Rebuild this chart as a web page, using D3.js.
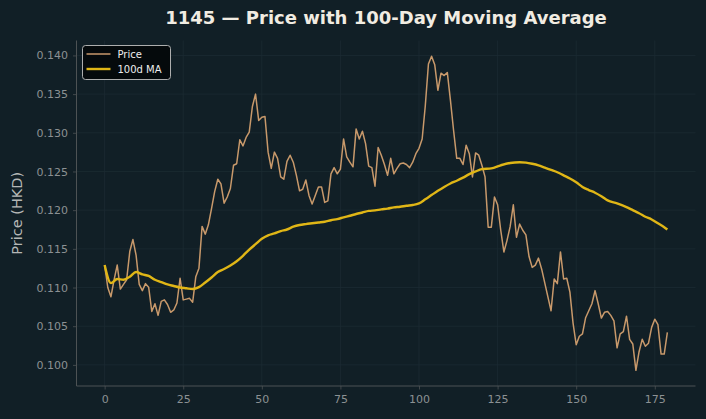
<!DOCTYPE html>
<html><head><meta charset="utf-8">
<script src="https://cdn.jsdelivr.net/npm/d3@7"></script>
<style>
html,body{margin:0;padding:0;background:#111f26;}
svg{display:block;font-family:"DejaVu Sans",sans-serif;}
</style></head>
<body><svg id="chart" width="706" height="419"></svg>
<script>
const title = "1145 — Price with 100-Day Moving Average";
const yLabel = "Price (HKD)";
const seriesNames = ["Price", "100d MA"];
const priceValues = [
0.1129,0.1100,0.1088,0.1110,0.1129,0.1098,0.1104,0.1110,0.11465,0.1162,
0.1142,0.1104,0.1096,0.1105,0.11005,0.1069,0.1079,0.1064,0.1082,0.1084,
0.1078,0.1068,0.1071,0.1080,0.1112,0.1084,0.1085,0.1086,0.1081,0.1114,
0.1125,0.1179,0.1169,0.1181,0.1202,0.1224,0.1240,0.1234,0.1209,0.1217,
0.1228,0.1258,0.1260,0.1291,0.1283,0.1294,0.1301,0.1334,0.1350,0.1316,
0.1320,0.1321,0.1275,0.1254,0.1275,0.1267,0.1243,0.1240,0.1263,0.1271,
0.1262,0.1245,0.1225,0.1227,0.1239,0.1219,0.1208,0.1219,0.1230,0.1230,
0.1210,0.1212,0.1247,0.1255,0.1247,0.1253,0.1292,0.1269,0.1262,0.1256,
0.1305,0.1292,0.1302,0.1286,0.1257,0.1255,0.1231,0.1281,0.1271,0.1259,
0.1245,0.1267,0.1247,0.1254,0.1260,0.1261,0.1259,0.1255,0.1262,0.1273,
0.1280,0.1292,0.1335,0.1389,0.1399,0.1388,0.1355,0.1377,0.1374,0.1378,
0.1342,0.1303,0.1267,0.1267,0.1259,0.1284,0.1273,0.1243,0.1274,0.1271,
0.1258,0.1243,0.1178,0.1178,0.1217,0.1207,0.1174,0.1146,0.1161,0.1179,
0.1207,0.1165,0.1182,0.1174,0.1168,0.1140,0.1126,0.1129,0.1138,0.1124,
0.1106,0.1088,0.1070,0.1111,0.1105,0.1146,0.1111,0.1112,0.1094,0.1054,
0.1026,0.1037,0.1040,0.1061,0.1070,0.1079,0.1096,0.1079,0.10605,0.1068,
0.1069,0.1064,0.1057,0.1022,0.1040,0.1043,0.1063,0.1033,0.1027,0.0993,
0.1017,0.1033,0.1024,0.1028,0.10485,0.1059,0.1052,0.1014,0.1014,0.1042
];
const maDays = [0,2,4,6,8,10,12,14,16,18,20,22,24,26,28,30,32,34,36,38,40,42,44,46,48,50,52,54,56,58,
60,62,64,66,68,70,72,74,76,78,80,82,84,86,88,90,92,94,96,98,100,102,104,106,108,110,112,114,116,118,120,
123,126,129,132,134,136,138,140,142,144,146,148,150,152,154,156,158,160,163,166,168,170,172,174,176,178,179];
const maValues = [0.1129,0.11057,0.1111,0.1110,0.1114,0.1120,0.1117,0.1115,0.1110,0.1107,0.1104,0.1102,0.1100,0.1099,0.1098,0.11005,0.11065,0.1113,0.1120,0.1124,0.11285,0.1134,0.1141,0.1149,0.1156,0.1163,0.11675,0.1170,0.1173,0.1175,
0.11786,0.11808,0.1182,0.1183,0.1184,0.1185,0.1187,0.11885,0.11907,0.11928,0.1195,0.1197,0.1199,0.11997,0.1201,0.1202,0.12036,0.12044,0.12057,0.12066,0.12087,0.1214,0.12195,0.1225,0.1230,0.12345,0.1238,0.1242,0.12465,0.1250,0.1253,
0.1254,0.1258,0.1261,0.1262,0.12615,0.1260,0.1258,0.1255,0.1252,0.1249,0.1245,0.1241,0.1236,0.1230,0.1226,0.12225,0.1218,0.12126,0.12087,0.1204,0.1200,0.1196,0.11915,0.1188,0.1183,0.1178,0.1175];
const xTicks = [0,25,50,75,100,125,150,175];
const yTicks = [0.100,0.105,0.110,0.115,0.120,0.125,0.130,0.135,0.140];

const colors = {bg:"#111f26", grid:"#1c2b32", spine:"#4d5254", tick:"#8c9193", title:"#f1ece2", ylab:"#b5b7b6", price:"#c8996b", ma:"#e0b616"};
const svg = d3.select("#chart");
svg.append("rect").attr("width",706).attr("height",419).attr("fill",colors.bg);

const L=76.5, R=695.5, T=40.5, B=386;
const n = priceValues.length;
const xPad = (n-1)*0.05;
const x = d3.scaleLinear().domain([-xPad, n-1+xPad]).range([L,R]);
const allV = priceValues.concat(maValues);
const [vmin,vmax] = d3.extent(allV);
const yPad = (vmax-vmin)*0.05;
const y = d3.scaleLinear().domain([vmin-yPad, vmax+yPad]).range([B,T]);

// grid
const g = svg.append("g");
g.selectAll("line.gx").data(xTicks).join("line").attr("x1",d=>x(d)).attr("x2",d=>x(d)).attr("y1",T).attr("y2",B).attr("stroke",colors.grid).attr("stroke-width",0.8);
g.selectAll("line.gy").data(yTicks).join("line").attr("y1",d=>y(d)).attr("y2",d=>y(d)).attr("x1",L).attr("x2",R).attr("stroke",colors.grid).attr("stroke-width",0.8);

// axes
const xAxis = d3.axisBottom(x).tickValues(xTicks).tickFormat(d3.format("d")).tickSize(3.5).tickPadding(6);
const yAxis = d3.axisLeft(y).tickValues(yTicks).tickFormat(d3.format(".3f")).tickSize(3.5).tickPadding(5);
const gx = svg.append("g").attr("transform",`translate(0,${B})`).call(xAxis);
const gy = svg.append("g").attr("transform",`translate(${L},0)`).call(yAxis);
[gx,gy].forEach(a=>{
  a.select(".domain").remove();
  a.selectAll(".tick line").attr("stroke",colors.spine).attr("stroke-width",0.8);
  a.selectAll(".tick text").attr("fill",colors.tick).attr("font-size",11).attr("font-family","DejaVu Sans");
});
svg.append("line").attr("x1",L).attr("x2",L).attr("y1",T).attr("y2",B).attr("stroke",colors.spine).attr("stroke-width",1);
svg.append("line").attr("x1",L).attr("x2",R).attr("y1",B).attr("y2",B).attr("stroke",colors.spine).attr("stroke-width",1);

// lines
const line = d3.line().x(d=>x(d[0])).y(d=>y(d[1]));
svg.append("path").datum(priceValues.map((v,i)=>[i,v])).attr("d",line).attr("fill","none").attr("stroke",colors.price).attr("stroke-width",1.5).attr("stroke-linejoin","round");
svg.append("path").datum(maDays.map((d,i)=>[d,maValues[i]])).attr("d",line.curve(d3.curveMonotoneX)).attr("fill","none").attr("stroke",colors.ma).attr("stroke-width",2.4).attr("stroke-linejoin","round");

// title & labels
svg.append("text").attr("x",(L+R)/2).attr("y",24).attr("text-anchor","middle").attr("fill",colors.title).attr("font-size",18).attr("font-weight","bold").text(title);
svg.append("text").attr("transform",`translate(22,${(T+B)/2}) rotate(-90)`).attr("text-anchor","middle").attr("fill",colors.ylab).attr("font-size",14.5).text(yLabel);

// legend
const lg = svg.append("g").attr("transform","translate(82.5,45.5)");
lg.append("rect").attr("width",88).attr("height",34).attr("rx",3).attr("fill","#050a0c").attr("stroke","#bfbfbf").attr("stroke-width",0.9);
const lc = [colors.price, colors.ma], lw=[1.5,2.4];
seriesNames.forEach((s,i)=>{
  const yy = 8.5 + i*15;
  lg.append("line").attr("x1",4).attr("x2",28).attr("y1",yy).attr("y2",yy).attr("stroke",lc[i]).attr("stroke-width",lw[i]);
  lg.append("text").attr("x",35).attr("y",yy+3.5).attr("fill","#eeeeee").attr("font-size",10).text(s);
});
</script></body></html>
